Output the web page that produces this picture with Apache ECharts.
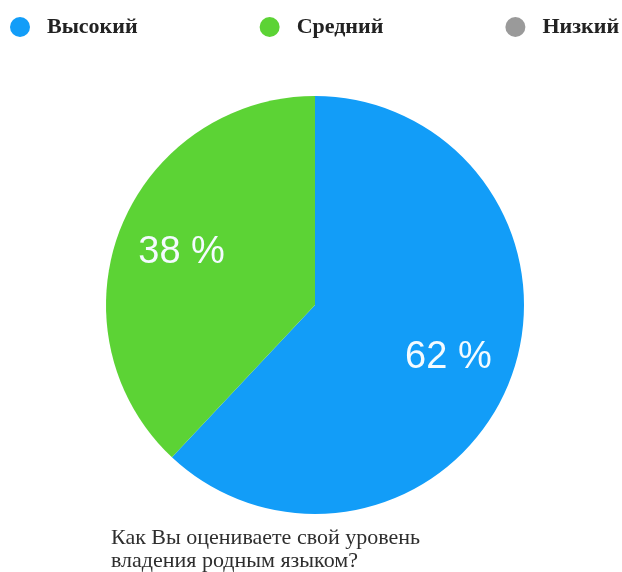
<!DOCTYPE html>
<html>
<head>
<meta charset="utf-8">
<script src="https://cdn.jsdelivr.net/npm/echarts@6/dist/echarts.min.js"></script>
<style>
  html, body { margin: 0; padding: 0; background: #ffffff; }
  #chart { width: 622px; height: 572px; }
</style>
</head>
<body>
<div id="chart"></div>
<script>
// Survey answers: self-assessed native-language proficiency (percent)
const categories = ['Высокий', 'Средний', 'Низкий'];
const shares = [62, 38, 0];
const colors = ['#129df8', '#5cd335', '#9a9a9a'];
const question = 'Как Вы оцениваете свой уровень\nвладения родным языком?';

const pieData = categories.map((name, i) => ({
  name: name,
  value: shares[i],
  itemStyle: { color: colors[i] }
}));

const chart = echarts.init(document.getElementById('chart'), null, { renderer: 'canvas' });

const pieCenter = [315, 305];
const pieRadius = 209;

chart.setOption({
  animation: false,
  backgroundColor: '#ffffff',
  title: {
    text: question,
    left: 111,
    top: 527,
    padding: 0,
    textStyle: {
      fontFamily: '"Liberation Serif", "DejaVu Serif", serif',
      fontSize: 22,
      fontWeight: 'normal',
      color: '#2e2e2e',
      lineHeight: 23
    }
  },
  legend: {
    left: 10,
    top: 16,
    width: 640,
    padding: 0,
    itemGap: 122,
    itemWidth: 20,
    itemHeight: 20,
    icon: 'circle',
    data: categories.map((name, i) => ({ name: name, itemStyle: { color: colors[i] } })),
    textStyle: {
      fontFamily: '"Liberation Serif", "DejaVu Serif", serif',
      fontSize: 22,
      fontWeight: 'bold',
      color: '#222222',
      padding: [0, 0, 0, 12]
    }
  },
  series: [
    {
      type: 'pie',
      center: pieCenter,
      radius: pieRadius,
      startAngle: 90,
      clockwise: true,
      data: pieData,
      label: { show: false },
      labelLine: { show: false },
      emphasis: { disabled: true }
    },
    {
      // transparent ring that only places the percentage labels
      type: 'pie',
      silent: true,
      center: pieCenter,
      radius: [72, pieRadius],
      startAngle: 90,
      clockwise: true,
      data: pieData.map(d => ({ name: d.name, value: d.value, itemStyle: { color: 'rgba(0,0,0,0)' } })),
      label: {
        show: true,
        position: 'inside',
        formatter: p => (p.value > 0 ? p.value + ' %' : ''),
        fontFamily: '"Liberation Sans", Arial, sans-serif',
        fontSize: 38,
        fontWeight: 'normal',
        color: '#f4fbff',
        padding: [7, 0, 0, 0]
      },
      labelLine: { show: false },
      emphasis: { disabled: true }
    }
  ]
});
</script>
</body>
</html>
